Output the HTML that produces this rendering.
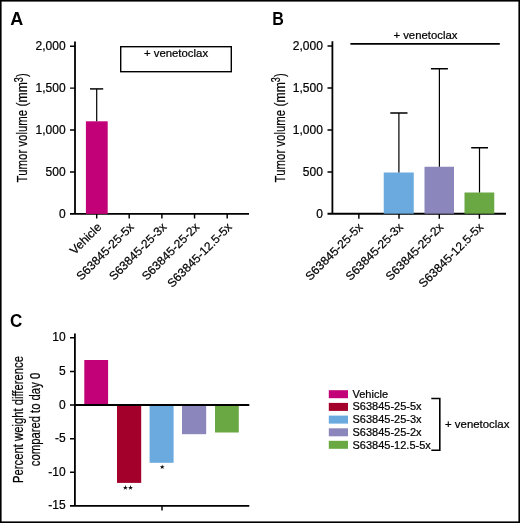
<!DOCTYPE html>
<html><head><meta charset="utf-8">
<style>
html,body{margin:0;padding:0;background:#fff;}
body{width:520px;height:523px;overflow:hidden;}
svg{display:block;will-change:transform;}
text{font-family:"Liberation Sans",sans-serif;fill:#000;stroke:#000;stroke-width:0.22px;}
.pl{stroke:none;}
.ax{stroke:#000;stroke-width:1.8;fill:none;}
.tl{stroke:#000;stroke-width:1.45;fill:none;}
.eb{stroke:#000;stroke-width:1.2;fill:none;}
.tk{font-size:12px;text-anchor:end;}
.xl{font-size:12px;text-anchor:end;}
.lg{font-size:11.7px;}
.pl{font-size:17.5px;font-weight:bold;fill:#000;}
</style></head>
<body>
<svg width="520" height="523" viewBox="0 0 520 523">
<rect x="0.8" y="0.8" width="518.4" height="521.4" fill="#fff" stroke="#000" stroke-width="1.6"/>

<!-- ===== Panel A ===== -->
<text class="pl" x="10.3" y="24.8" textLength="13" lengthAdjust="spacingAndGlyphs">A</text>
<!-- y axis -->
<path class="ax" d="M75 41.5V213.9M70 213.9H249"/>
<path class="tl" d="M70 46.15H75M70 88.1H75M70 130H75M70 171.95H75"/>
<path class="tl" d="M96.7 213.9V218.6M129.2 213.9V218.6M161.9 213.9V218.6M194.55 213.9V218.6M227.2 213.9V218.6"/>
<text class="tk" x="65.6" y="49.85">2,000</text>
<text class="tk" x="65.6" y="91.85">1,500</text>
<text class="tk" x="65.6" y="133.8">1,000</text>
<text class="tk" x="65.6" y="175.8">500</text>
<text class="tk" x="65.6" y="217.75">0</text>
<!-- bar -->
<rect x="85.9" y="121.3" width="21.8" height="92.6" fill="#C20077"/>
<path class="eb" d="M96.7 121.3V88.9"/><path class="tl" d="M90 88.9H103.2"/>
<!-- box -->
<rect x="120.7" y="46.7" width="110.6" height="25" fill="none" stroke="#000" stroke-width="1.4"/>
<text class="lg" x="176" y="57.3" text-anchor="middle" style="font-size:11.7px" textLength="64.2" lengthAdjust="spacingAndGlyphs">+ venetoclax</text>
<!-- y label -->
<g id="ylab" font-size="14.3">
<text transform="translate(27.3,182.4) rotate(-90)" textLength="72.6" lengthAdjust="spacingAndGlyphs">Tumor volume</text>
<text transform="translate(27.3,106.6) rotate(-90)" textLength="24.4" lengthAdjust="spacingAndGlyphs">(mm</text>
<text transform="translate(22.7,82.2) rotate(-90)" font-size="12" textLength="5" lengthAdjust="spacingAndGlyphs">3</text>
<text transform="translate(27.3,77) rotate(-90)" textLength="3.6" lengthAdjust="spacingAndGlyphs">)</text>
</g>
<!-- x labels -->
<text class="xl" transform="translate(102.1,227.8) rotate(-45)">Vehicle</text>
<text class="xl" transform="translate(134.6,227.8) rotate(-45)">S63845-25-5x</text>
<text class="xl" transform="translate(167.3,227.8) rotate(-45)">S63845-25-3x</text>
<text class="xl" transform="translate(199.95,227.8) rotate(-45)">S63845-25-2x</text>
<text class="xl" transform="translate(232.6,227.8) rotate(-45)">S63845-12.5-5x</text>

<!-- ===== Panel B ===== -->
<text class="pl" x="272.2" y="24.8" textLength="11.6" lengthAdjust="spacingAndGlyphs">B</text>
<path class="ax" d="M332.4 41.3V213.75M327.5 213.75H506"/>
<path class="tl" d="M327.5 46H332.4M327.5 87.97H332.4M327.5 129.95H332.4M327.5 171.92H332.4"/>
<path class="tl" d="M358.85 213.75V218.7M399 213.75V218.7M439.3 213.75V218.7M479.4 213.75V218.7"/>
<text class="tk" x="322.9" y="49.85">2,000</text>
<text class="tk" x="322.9" y="91.85">1,500</text>
<text class="tk" x="322.9" y="133.8">1,000</text>
<text class="tk" x="322.9" y="175.8">500</text>
<text class="tk" x="322.9" y="217.6">0</text>
<rect x="383.75" y="172.5" width="30" height="41.2" fill="#6AAADF"/>
<rect x="424.5" y="166.75" width="29.5" height="46.95" fill="#8B86BC"/>
<rect x="464.5" y="192.5" width="29.75" height="21.2" fill="#6AA843"/>
<path class="eb" d="M398.9 172.5V113M439.4 166.75V68.8M479.5 192.5V147.8"/><path class="tl" d="M390.3 113H407.5M430.9 68.8H447.9M471.2 147.8H488"/>
<path class="ax" d="M350.4 43.8H499.8"/>
<text class="lg" x="425.4" y="38.8" text-anchor="middle" style="font-size:11.7px" textLength="64" lengthAdjust="spacingAndGlyphs">+ venetoclax</text>
<use href="#ylab" x="257.3"/>
<text class="xl" transform="translate(363.45,227.9) rotate(-45)">S63845-25-5x</text>
<text class="xl" transform="translate(403.8,227.9) rotate(-45)">S63845-25-3x</text>
<text class="xl" transform="translate(443.9,227.9) rotate(-45)">S63845-25-2x</text>
<text class="xl" transform="translate(484,227.9) rotate(-45)">S63845-12.5-5x</text>

<!-- ===== Panel C ===== -->
<text class="pl" x="10" y="327" textLength="12.3" lengthAdjust="spacingAndGlyphs">C</text>
<path class="ax" d="M74.9 333.4V505.9M70 505.9H249.3"/>
<path class="tl" d="M70 337.8H74.9M70 371.4H74.9M70 405H74.9M70 438.7H74.9M70 472.3H74.9M162 505.9V510.5"/>
<text class="tk" x="65.7" y="341.3">10</text>
<text class="tk" x="65.7" y="374.9">5</text>
<text class="tk" x="65.7" y="408.5">0</text>
<text class="tk" x="65.7" y="442.1">-5</text>
<text class="tk" x="65.7" y="475.7">-10</text>
<text class="tk" x="65.7" y="509.3">-15</text>
<rect x="84.3" y="360" width="23.8" height="45" fill="#C20077"/>
<rect x="117" y="405" width="24.2" height="77.9" fill="#A3002B"/>
<rect x="149.6" y="405" width="24" height="57.8" fill="#6AAADF"/>
<rect x="182" y="405" width="24.2" height="29.2" fill="#8B86BC"/>
<rect x="215" y="405" width="23.8" height="27.5" fill="#6AA843"/>
<path class="ax" d="M74.9 405H249.3"/>
<text transform="translate(22.6,419.5) rotate(-90) scale(0.8,1)" font-size="14.1" text-anchor="middle">Percent weight difference</text>
<text transform="translate(39.5,419.5) rotate(-90) scale(0.8,1)" font-size="14.1" text-anchor="middle">compared to day 0</text>
<!-- stars -->
<g fill="#111">
<polygon id="st" points="0,-2.6 0.6,-0.8 2.5,-0.8 1,0.3 1.6,2.1 0,1 -1.6,2.1 -1,0.3 -2.5,-0.8 -0.6,-0.8" transform="translate(125.4,487.7)"/>
<polygon points="0,-2.6 0.6,-0.8 2.5,-0.8 1,0.3 1.6,2.1 0,1 -1.6,2.1 -1,0.3 -2.5,-0.8 -0.6,-0.8" transform="translate(130.5,487.7)"/>
<polygon points="0,-2.6 0.6,-0.8 2.5,-0.8 1,0.3 1.6,2.1 0,1 -1.6,2.1 -1,0.3 -2.5,-0.8 -0.6,-0.8" transform="translate(162.2,467)"/>
</g>

<!-- ===== Legend ===== -->
<rect x="328.8" y="390.2" width="19.2" height="8" fill="#C20077"/>
<rect x="328.8" y="402.9" width="19.2" height="8" fill="#A3002B"/>
<rect x="328.8" y="415.6" width="19.2" height="8" fill="#6AAADF"/>
<rect x="328.8" y="428.3" width="19.2" height="8" fill="#8B86BC"/>
<rect x="328.8" y="440.8" width="19.2" height="8" fill="#6AA843"/>
<text class="lg" x="352.5" y="397.5" textLength="35.5" lengthAdjust="spacingAndGlyphs">Vehicle</text>
<text class="lg" x="352.5" y="410.3" textLength="69.1" lengthAdjust="spacingAndGlyphs">S63845-25-5x</text>
<text class="lg" x="352.5" y="423" textLength="69.1" lengthAdjust="spacingAndGlyphs">S63845-25-3x</text>
<text class="lg" x="352.5" y="435.8" textLength="69.1" lengthAdjust="spacingAndGlyphs">S63845-25-2x</text>
<text class="lg" x="352.5" y="448.5" textLength="78.3" lengthAdjust="spacingAndGlyphs">S63845-12.5-5x</text>
<path class="eb" d="M431.3 398.5H439.8V450.3H431.3" style="stroke-width:1.6px"/>
<text class="lg" x="445" y="427.9" textLength="64.4" lengthAdjust="spacingAndGlyphs">+ venetoclax</text>
</svg>
</body></html>
